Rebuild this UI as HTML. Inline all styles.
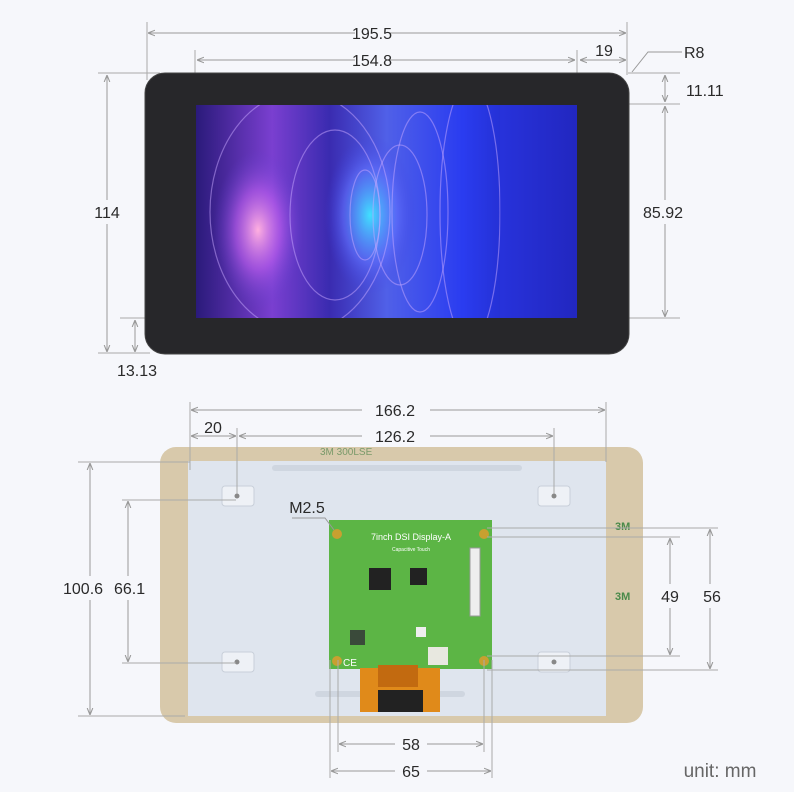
<!DOCTYPE html>
<html><head><meta charset="utf-8"><style>
html,body{margin:0;padding:0;background:#f6f7fb;}
svg{display:block}
text{font-family:"Liberation Sans",sans-serif;fill:#2a2a2a;font-size:16px;}
</style></head><body>
<svg width="794" height="792" viewBox="0 0 794 792" xmlns="http://www.w3.org/2000/svg">
<defs>
<marker id="a" viewBox="0 0 10 10" refX="10" refY="5" markerWidth="7" markerHeight="7" orient="auto-start-reverse"><path d="M0,1 L10,5 L0,9" fill="none" stroke="#999" stroke-width="1.5"/></marker>
<clipPath id="sc"><rect x="196" y="105" width="381" height="213"/></clipPath>
<linearGradient id="scr" x1="0" y1="0" x2="1" y2="0">
<stop offset="0" stop-color="#2a1a7a"/><stop offset="0.2" stop-color="#7a3fd0"/><stop offset="0.35" stop-color="#3a2bb0"/><stop offset="0.5" stop-color="#5060e8"/><stop offset="0.7" stop-color="#2a3cf0"/><stop offset="1" stop-color="#1a1aa0"/></linearGradient>
<radialGradient id="g1" cx="0.5" cy="0.5" r="0.5"><stop offset="0" stop-color="#ffb0e0"/><stop offset="0.5" stop-color="#c060f0" stop-opacity="0.6"/><stop offset="1" stop-color="#6040d0" stop-opacity="0"/></radialGradient>
<radialGradient id="g2" cx="0.5" cy="0.5" r="0.5"><stop offset="0" stop-color="#40e0ff"/><stop offset="0.6" stop-color="#6070ff" stop-opacity="0.6"/><stop offset="1" stop-color="#4040e0" stop-opacity="0"/></radialGradient>
</defs>
<g stroke="#aaa" stroke-width="1" fill="none">
<line x1="147" y1="22" x2="147" y2="80"/><line x1="627" y1="22" x2="627" y2="75"/>
<line x1="195" y1="50" x2="195" y2="110"/><line x1="577" y1="50" x2="577" y2="105"/>
<line x1="98" y1="73" x2="160" y2="73"/><line x1="98" y1="353" x2="150" y2="353"/>
<line x1="628" y1="73" x2="680" y2="73"/><line x1="578" y1="104" x2="680" y2="104"/>
<line x1="577" y1="318" x2="680" y2="318"/><line x1="120" y1="318" x2="205" y2="318"/>
</g>
<rect x="145" y="73" width="484" height="281" rx="20" fill="#27272a" stroke="#444" stroke-width="1"/>
<g clip-path="url(#sc)">
<rect x="196" y="105" width="381" height="213" fill="url(#scr)"/>
<ellipse cx="258" cy="230" rx="45" ry="80" fill="url(#g1)"/>
<ellipse cx="370" cy="215" rx="45" ry="80" fill="url(#g2)"/>
<g fill="none" stroke="#c8a8ff" stroke-opacity="0.5" stroke-width="1.2">
<ellipse cx="300" cy="212" rx="90" ry="120"/><ellipse cx="335" cy="215" rx="45" ry="85"/><ellipse cx="365" cy="215" rx="15" ry="45"/><ellipse cx="400" cy="215" rx="27" ry="70"/><ellipse cx="420" cy="212" rx="28" ry="100"/><ellipse cx="470" cy="212" rx="30" ry="130"/>
</g>
<rect x="500" y="105" width="77" height="213" fill="#2a33e0" opacity="0.5"/>
</g>
<g stroke="#999" stroke-width="1" fill="none" marker-start="url(#a)" marker-end="url(#a)">
<line x1="148" y1="33" x2="626" y2="33"/>
<line x1="197" y1="60" x2="575" y2="60"/>
<line x1="580" y1="60" x2="626" y2="60"/>
<line x1="107" y1="75" x2="107" y2="352"/>
<line x1="665" y1="75" x2="665" y2="102"/>
<line x1="665" y1="106" x2="665" y2="317"/>
<line x1="135" y1="320" x2="135" y2="352"/>
</g>
<rect x="355" y="24" width="34" height="18" fill="#f6f7fb"/>
<rect x="355" y="51" width="34" height="18" fill="#f6f7fb"/>
<rect x="95" y="200" width="26" height="24" fill="#f6f7fb"/>
<rect x="652" y="200" width="42" height="24" fill="#f6f7fb"/>
<polyline points="632,72 648,52 682,52" fill="none" stroke="#999"/>
<text x="372" y="39" text-anchor="middle">195.5</text>
<text x="372" y="66" text-anchor="middle">154.8</text>
<text x="604" y="56" text-anchor="middle">19</text>
<text x="684" y="58">R8</text>
<text x="686" y="96">11.11</text>
<text x="643" y="218">85.92</text>
<text x="107" y="218" text-anchor="middle">114</text>
<text x="117" y="376">13.13</text>

<rect x="160" y="447" width="483" height="276" rx="16" fill="#d8c9ab"/>
<text x="320" y="455" style="fill:#7a9a6a;font-size:10px">3M 300LSE</text>
<text x="615" y="530" style="fill:#4a8a4a;font-size:11px;font-weight:bold">3M</text>
<text x="615" y="600" style="fill:#4a8a4a;font-size:11px;font-weight:bold">3M</text>
<rect x="188" y="461" width="418" height="255" fill="#dfe5ee"/>
<rect x="272" y="465" width="250" height="6" rx="3" fill="#cfd6e0"/>
<rect x="315" y="691" width="150" height="6" rx="3" fill="#cfd6e0"/>
<g fill="#eef1f6" stroke="#c8cfd9">
<rect x="222" y="486" width="32" height="20" rx="3"/><rect x="538" y="486" width="32" height="20" rx="3"/>
<rect x="222" y="652" width="32" height="20" rx="3"/><rect x="538" y="652" width="32" height="20" rx="3"/>
</g>
<g fill="#888"><circle cx="237" cy="496" r="2.5"/><circle cx="554" cy="496" r="2.5"/><circle cx="237" cy="662" r="2.5"/><circle cx="554" cy="662" r="2.5"/></g>
<rect x="329" y="520" width="163" height="149" fill="#5cb545"/>
<rect x="369" y="568" width="22" height="22" fill="#222"/><rect x="410" y="568" width="17" height="17" fill="#222"/>
<rect x="470" y="548" width="10" height="68" fill="#eee" stroke="#999"/>
<rect x="416" y="627" width="10" height="10" fill="#eee"/>
<rect x="350" y="630" width="15" height="15" fill="#3a4a3a"/>
<rect x="428" y="647" width="20" height="18" fill="#e8e8e0"/>
<g fill="#c8a030"><circle cx="337" cy="534" r="5"/><circle cx="484" cy="534" r="5"/><circle cx="337" cy="661" r="5"/><circle cx="484" cy="661" r="5"/></g>
<text x="411" y="540" text-anchor="middle" style="fill:#fff;font-size:9px">7inch DSI Display-A</text>
<text x="411" y="551" text-anchor="middle" style="fill:#fff;font-size:5px">Capacitive Touch</text>
<text x="343" y="666" style="fill:#fff;font-size:10px">CE</text>
<rect x="360" y="668" width="80" height="44" fill="#e08a1a"/>
<rect x="378" y="665" width="40" height="22" fill="#c26a10"/>
<rect x="378" y="690" width="45" height="22" fill="#222"/>
<g stroke="#aaa" stroke-width="1" fill="none">
<line x1="190" y1="402" x2="190" y2="470"/><line x1="606" y1="402" x2="606" y2="462"/>
<line x1="237" y1="428" x2="237" y2="494"/><line x1="554" y1="428" x2="554" y2="494"/>
<line x1="78" y1="462" x2="190" y2="462"/><line x1="78" y1="716" x2="185" y2="716"/>
<line x1="122" y1="500" x2="236" y2="500"/><line x1="122" y1="663" x2="236" y2="663"/>
<line x1="487" y1="528" x2="718" y2="528"/><line x1="487" y1="537" x2="680" y2="537"/>
<line x1="487" y1="656" x2="680" y2="656"/><line x1="487" y1="670" x2="718" y2="670"/>
<line x1="338" y1="660" x2="338" y2="752"/><line x1="484" y1="660" x2="484" y2="752"/>
<line x1="330" y1="660" x2="330" y2="778"/><line x1="492" y1="660" x2="492" y2="778"/>
</g>
<polyline points="292,518 325,518 334,530" fill="none" stroke="#999"/>
<g stroke="#999" stroke-width="1" fill="none" marker-start="url(#a)" marker-end="url(#a)">
<line x1="191" y1="410" x2="605" y2="410"/>
<line x1="191" y1="436" x2="236" y2="436"/>
<line x1="239" y1="436" x2="553" y2="436"/>
<line x1="90" y1="463" x2="90" y2="715"/>
<line x1="128" y1="501" x2="128" y2="662"/>
<line x1="670" y1="538" x2="670" y2="655"/>
<line x1="710" y1="529" x2="710" y2="669"/>
<line x1="339" y1="744" x2="483" y2="744"/>
<line x1="331" y1="771" x2="491" y2="771"/>
</g>
<rect x="362" y="401" width="68" height="18" fill="#f6f7fb"/>
<rect x="362" y="427" width="68" height="18" fill="#f6f7fb"/>
<rect x="60" y="576" width="90" height="24" fill="#f6f7fb"/>
<rect x="655" y="584" width="30" height="24" fill="#f6f7fb"/>
<rect x="697" y="584" width="30" height="24" fill="#f6f7fb"/>
<rect x="395" y="735" width="32" height="18" fill="#f6f7fb"/>
<rect x="395" y="762" width="32" height="18" fill="#f6f7fb"/>
<text x="395" y="416" text-anchor="middle">166.2</text>
<text x="395" y="442" text-anchor="middle">126.2</text>
<text x="213" y="433" text-anchor="middle">20</text>
<text x="307" y="513" text-anchor="middle">M2.5</text>
<text x="63" y="594">100.6</text>
<text x="114" y="594">66.1</text>
<text x="670" y="602" text-anchor="middle">49</text>
<text x="712" y="602" text-anchor="middle">56</text>
<text x="411" y="750" text-anchor="middle">58</text>
<text x="411" y="777" text-anchor="middle">65</text>
<text x="720" y="777" text-anchor="middle" style="font-size:19px;fill:#666">unit: mm</text>
</svg>
</body></html>
